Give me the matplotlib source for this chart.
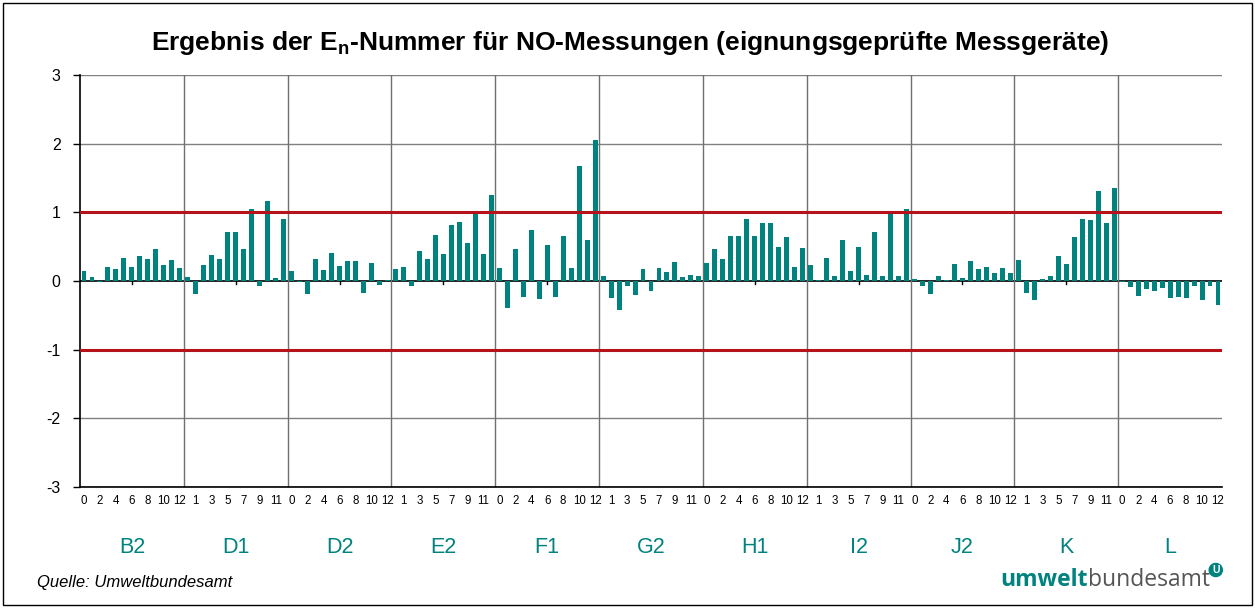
import matplotlib
matplotlib.use("Agg")
import matplotlib.pyplot as plt
from matplotlib.patches import Rectangle
import numpy as np

plt.rcParams['font.family'] = ['Liberation Sans', 'DejaVu Sans']

groups = ["B2", "D1", "D2", "E2", "F1", "G2", "H1", "I2", "J2", "K", "L"]
points_per_group = list(range(13))

B2 = [0.14, 0.06, -0.02, 0.20, 0.17, 0.33, 0.20, 0.37, 0.32, 0.47, 0.24, 0.31, 0.19]
D1 = [0.06, -0.19, 0.23, 0.38, 0.32, 0.71, 0.72, 0.46, 1.05, -0.07, 1.17, 0.05, 0.91]
D2 = [0.15, -0.02, -0.19, 0.32, 0.16, 0.41, 0.22, 0.29, 0.29, -0.18, 0.26, -0.06, 0.02]
E2 = [0.18, 0.21, -0.07, 0.43, 0.32, 0.67, 0.39, 0.81, 0.86, 0.55, 0.99, 0.39, 1.25]
F1 = [0.19, -0.40, 0.47, -0.24, 0.74, -0.26, 0.52, -0.23, 0.65, 0.19, 1.67, 0.59, 2.05]
G2 = [0.08, -0.25, -0.42, -0.08, -0.21, 0.18, -0.14, 0.19, 0.13, 0.28, 0.06, 0.09, 0.07]
H1 = [0.26, 0.46, 0.32, 0.65, 0.66, 0.91, 0.66, 0.84, 0.84, 0.50, 0.64, 0.21, 0.48]
I2 = [0.24, 0.02, 0.33, 0.07, 0.60, 0.14, 0.49, 0.09, 0.71, 0.08, 0.98, 0.07, 1.05]
J2 = [0.03, -0.07, -0.19, 0.07, 0.01, 0.25, 0.05, 0.29, 0.17, 0.20, 0.11, 0.19, 0.11]
K = [0.31, -0.18, -0.27, 0.03, 0.07, 0.37, 0.25, 0.64, 0.90, 0.89, 1.31, 0.85, 1.36]
L = [-0.01, -0.09, -0.22, -0.11, -0.15, -0.10, -0.25, -0.24, -0.25, -0.08, -0.27, -0.08, -0.35]

series = [B2, D1, D2, E2, F1, G2, H1, I2, J2, K, L]
values = np.concatenate(series)
n_per = len(points_per_group)
n = len(values)
x = np.arange(n)

teal = "#00837F"
red = "#B5121B"

fig = plt.figure(figsize=(12.55, 6.08), dpi=100)
ax = fig.add_axes([80/1255, 1 - 487/608, 1142/1255, 412/608])

# grid lines
for yv in [-3, -2, -1, 0, 1, 2, 3]:
    if yv in (-1, 1):
        continue
    ax.axhline(yv, color="#000000" if yv in (0, -3) else "#808080", lw=1.2 if yv == 0 else 1.0, zorder=1)
for k in range(1, len(groups)):
    ax.axvline(k * n_per - 0.5, color="#707070", lw=1.0, zorder=1)

ax.bar(x, values, width=0.62, color=teal, zorder=3)

ax.axhline(1, color=red, lw=2.2, zorder=4)
ax.axhline(-1, color=red, lw=2.2, zorder=4)

# small ticks on the zero line at group centres
for k in range(len(groups)):
    cx = k * n_per + (n_per - 1) / 2
    ax.plot([cx, cx], [0, -0.04], color="black", lw=1.0, zorder=2)

ax.set_xlim(-0.5, n - 0.5)
ax.set_ylim(-3, 3)
ax.set_yticks([-3, -2, -1, 0, 1, 2, 3])
ax.set_yticklabels(["-3", "-2", "-1", "0", "1", "2", "3"], fontsize=11.5)
ax.tick_params(axis="y", length=5, width=1, pad=9)

labels = [str(p) if (g * n_per + p) % 2 == 0 else "" for g in range(len(groups)) for p in points_per_group]
ax.set_xticks(x)
ax.set_xticklabels(labels, fontsize=8.3)
ax.tick_params(axis="x", length=0, pad=6)

for side in ["top", "right"]:
    ax.spines[side].set_visible(False)
ax.spines["left"].set_color("black")
ax.spines["left"].set_linewidth(1.2)
ax.spines["bottom"].set_color("black")
ax.spines["bottom"].set_linewidth(1.2)

# group labels
for k, g in enumerate(groups):
    cx = k * n_per + (n_per - 1) / 2
    ax.text(cx, -0.148, g, transform=ax.get_xaxis_transform(), ha="center", va="center",
            fontsize=15.5, color=teal)

fig.text(0.502, 1 - 43/608, r"Ergebnis der E$_\mathregular{n}$-Nummer für NO-Messungen (eignungsgeprüfte Messgeräte)",
         ha="center", va="center", fontsize=19, fontweight="bold")

fig.text(37/1255, 1 - 583/608, "Quelle: Umweltbundesamt", ha="left", va="center",
         fontsize=12, style="italic")

t1 = fig.text(1000/1255, 1 - 580/608, "umwelt", ha="left", va="center", fontsize=16.5,
              fontweight="bold", color=teal, family=["Open Sans", "DejaVu Sans"])
fig.canvas.draw()
bb = t1.get_window_extent()
t2 = fig.text(bb.x1 / 1255, 1 - 580/608, "bundesamt", ha="left", va="center", fontsize=16.5,
              color="#555555", family=["Open Sans", "DejaVu Sans"])
fig.canvas.draw()
bb2 = t2.get_window_extent()
fig.text(bb2.x1 / 1255 + 0.002, 1 - 570/608, "U", ha="left", va="center", fontsize=7.5,
         fontweight="bold", color="white",
         bbox=dict(boxstyle="circle,pad=0.15", fc=teal, ec=teal))

# outer border
fig.patches.append(Rectangle((3/1255, 3/608), 1 - 6/1255, 1 - 6/608, transform=fig.transFigure,
                             fill=False, ec="black", lw=1.0))

fig.savefig("out.png", dpi=100)
